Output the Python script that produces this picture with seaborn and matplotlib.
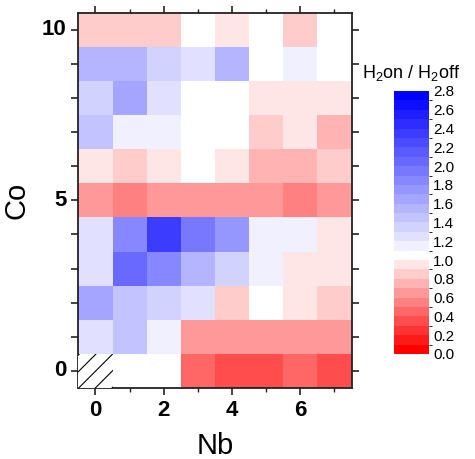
import numpy as np
import pandas as pd
import matplotlib
matplotlib.use("Agg")
import matplotlib.pyplot as plt
from matplotlib.colors import ListedColormap, BoundaryNorm
from matplotlib.patches import Rectangle
from matplotlib.ticker import FixedLocator
import seaborn as sns

plt.rcParams['font.family'] = ['Liberation Sans', 'DejaVu Sans']
plt.rcParams['mathtext.default'] = 'regular'
plt.rcParams['hatch.linewidth'] = 0.8

# Data: H2on / H2off ratio, rows = Co (10 at top down to 0), columns = Nb 0..7
nb_values = [0, 1, 2, 3, 4, 5, 6, 7]
co_values = [10, 9, 8, 7, 6, 5, 4, 3, 2, 1, 0]
row_co10 = [0.85, 0.85, 0.85, 1.05, 0.95, 1.05, 0.85, 1.05]
row_co9 = [1.55, 1.55, 1.35, 1.25, 1.55, 1.05, 1.15, 1.05]
row_co8 = [1.35, 1.65, 1.25, 1.05, 1.05, 0.95, 0.95, 0.95]
row_co7 = [1.45, 1.15, 1.15, 1.05, 1.05, 0.85, 0.95, 0.75]
row_co6 = [0.95, 0.85, 0.95, 1.05, 0.95, 0.75, 0.75, 0.85]
row_co5 = [0.65, 0.55, 0.65, 0.65, 0.65, 0.65, 0.55, 0.65]
row_co4 = [1.25, 1.85, 2.35, 1.95, 1.75, 1.15, 1.15, 0.95]
row_co3 = [1.25, 2.05, 1.85, 1.55, 1.35, 1.15, 0.95, 0.95]
row_co2 = [1.65, 1.45, 1.35, 1.25, 0.85, 1.05, 0.95, 0.85]
row_co1 = [1.25, 1.45, 1.15, 0.65, 0.65, 0.65, 0.65, 0.65]
row_co0 = [np.nan, 1.05, 1.05, 0.45, 0.35, 0.35, 0.45, 0.35]

cbar_ticks = [0.0, 0.2, 0.4, 0.6, 0.8, 1.0, 1.2, 1.4, 1.6, 1.8, 2.0,
              2.2, 2.4, 2.6, 2.8]

rows = [row_co10, row_co9, row_co8, row_co7, row_co6, row_co5,
        row_co4, row_co3, row_co2, row_co1, row_co0]
df = pd.DataFrame(rows, index=co_values, columns=nb_values)

# Discrete colormap: 0-1.0 red->light pink (10 steps), 1.0-1.1 white, 1.1-2.8 light blue->blue (17 steps)
colors = []
for k in range(10):
    g = k / 10
    colors.append((1.0, g, g))
colors.append((1.0, 1.0, 1.0))
for j in range(17):
    g = 1 - (j + 1) / 17
    colors.append((g, g, 1.0))
cmap = ListedColormap(colors)
bounds = np.round(np.arange(0, 2.85, 0.1), 2)
norm = BoundaryNorm(bounds, cmap.N)

fig = plt.figure(figsize=(4.75, 4.59), dpi=100)
ax = fig.add_axes([0.165, 0.1547, 0.575, 0.8176])
cax = fig.add_axes([0.8295, 0.2288, 0.0737, 0.573])

sns.heatmap(df, ax=ax, cbar_ax=cax, cmap=cmap, norm=norm, linewidths=0,
            cbar_kws={'ticks': cbar_ticks})

# hatched cells for missing data
arr = df.to_numpy()
for (r, c) in zip(*np.where(np.isnan(arr))):
    ax.add_patch(Rectangle((c, r), 1, 1, facecolor='white', edgecolor='black',
                           hatch='//', linewidth=0, zorder=3))

for sp in ax.spines.values():
    sp.set_visible(True)
    sp.set_linewidth(1.3)
    sp.set_color('#222222')

xpos = np.arange(len(nb_values)) + 0.5
ax.set_xticks(xpos[::2])
ax.set_xticklabels([str(v) for v in nb_values[::2]], rotation=0)
ax.xaxis.set_minor_locator(FixedLocator(xpos[1::2]))
ypos = np.arange(len(co_values)) + 0.5
ax.set_yticks(ypos)
ax.set_yticklabels([str(v) if v % 5 == 0 else '' for v in co_values], rotation=0)

ax.tick_params(axis='both', which='major', direction='out', length=5, width=1.2,
               top=True, right=True, labelsize=16, color='#222222')
ax.tick_params(axis='x', which='minor', direction='out', length=3, width=1.0,
               top=True, bottom=True, color='#222222')
for lab in ax.get_xticklabels() + ax.get_yticklabels():
    lab.set_fontweight('bold')

ax.set_xlabel('Nb', fontsize=21, labelpad=8)
ax.set_ylabel('Co', fontsize=21, labelpad=8)

cbar = ax.collections[0].colorbar
cbar.outline.set_visible(False)
cbar.set_ticks(cbar_ticks)
cbar.set_ticklabels([f'{t:.1f}' for t in cbar_ticks])
cax.tick_params(length=0, pad=3, labelsize=11)
cax.set_title('H$_2$on / H$_2$off', fontsize=13, pad=9)

fig.savefig('out.png', dpi=100)
